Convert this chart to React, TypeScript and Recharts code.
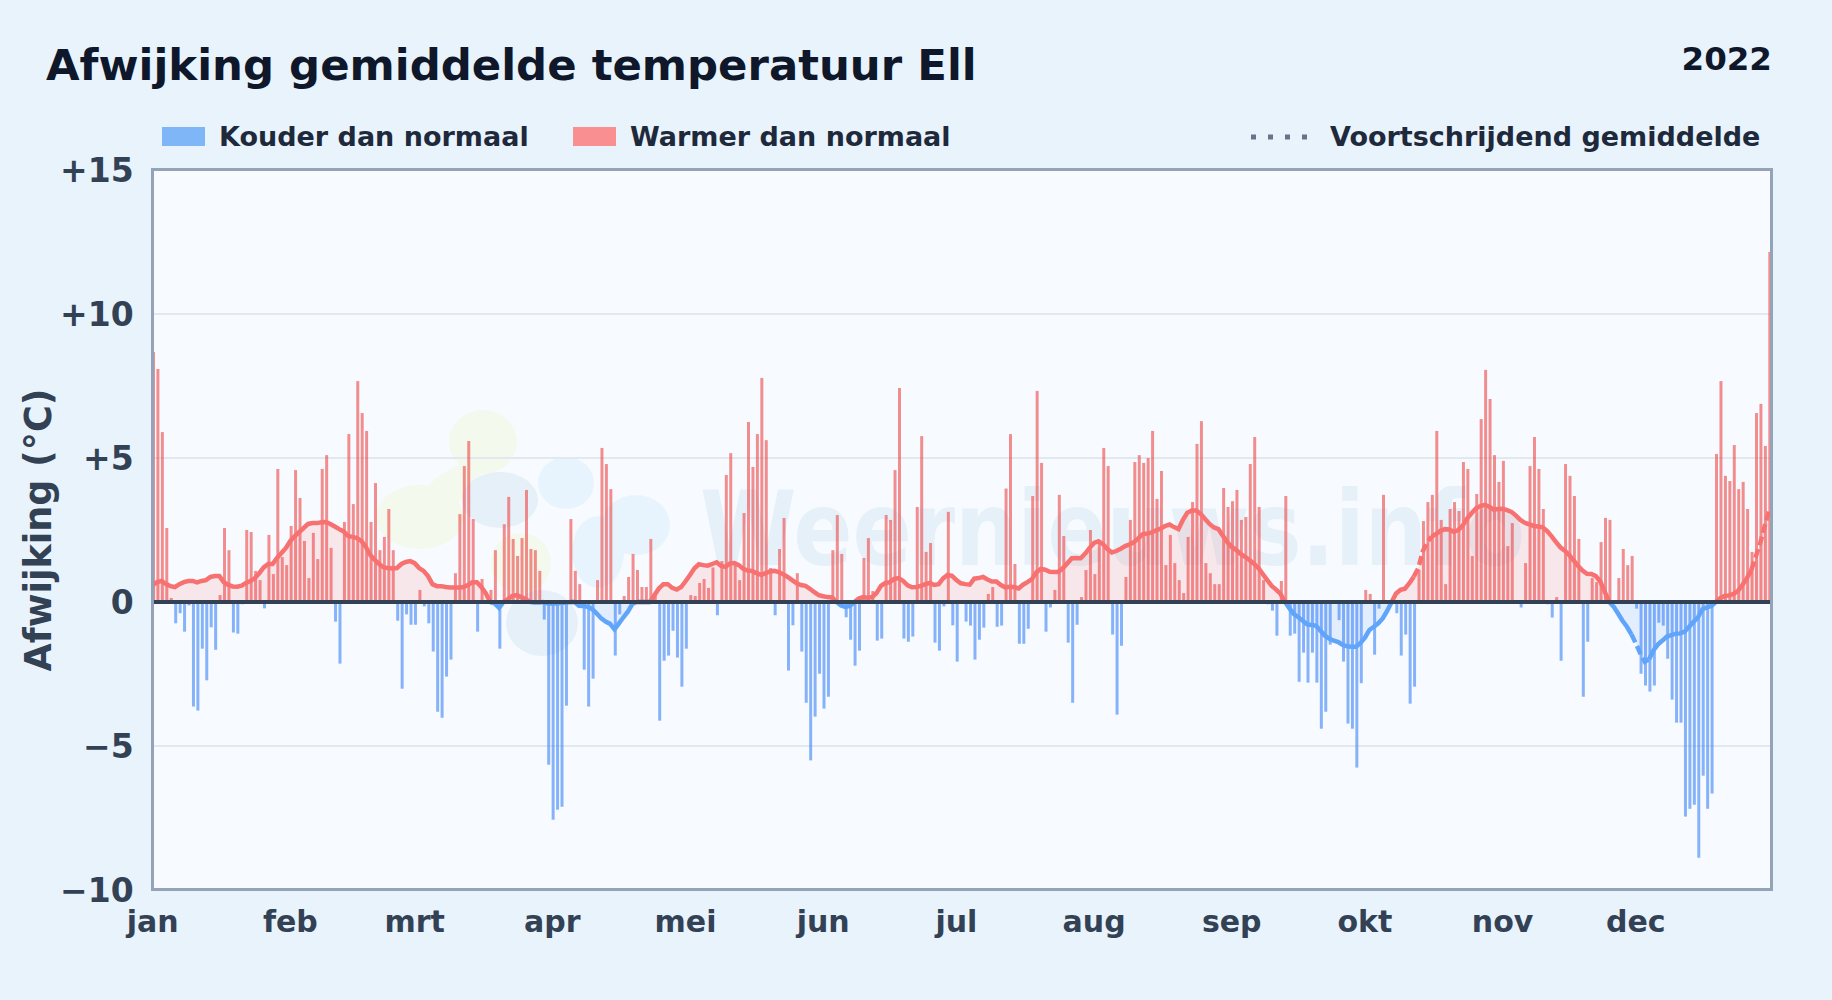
import {
  Area,
  Bar,
  CartesianGrid,
  ComposedChart,
  Line,
  Rectangle,
  ReferenceLine,
  XAxis,
  YAxis,
} from 'recharts';

const FONT = '"DejaVu Sans", sans-serif';

const monthLabels = ['jan', 'feb', 'mrt', 'apr', 'mei', 'jun', 'jul', 'aug', 'sep', 'okt', 'nov', 'dec'];
const monthStarts = [0, 31, 59, 90, 120, 151, 181, 212, 243, 273, 304, 334];
const yTicks = [-10, -5, 0, 5, 10, 15];

// daily deviation in degrees, 1 jan .. 31 dec
const deviation = [
  8.68, 8.09, 5.9, 2.57, 0.14, -0.74, -0.39, -1.03, -0.12, -3.63, -3.77, -1.62, -2.72, -0.88, -1.66, 0.24, 2.57, 1.8,
  -1.06, -1.1, -0.08, 2.5, 2.43, 1.08, 0.76, -0.22, 2.33, 0.97, 4.62, 1.56, 1.28,
  2.64, 4.58, 3.61, 2.12, 0.83, 2.4, 1.49, 4.62, 5.1, 1.88, -0.68, -2.14, 2.78, 5.83, 3.4, 7.67, 6.56, 5.94, 2.78, 4.13,
  1.8, 2.26, 3.23, 1.8, -0.65, -3.01, -0.43, -0.79,
  -0.79, 0.42, -0.15, -0.74, -1.72, -3.81, -4.02, -2.59, -2.0, 1.0, 3.05, 4.72, 5.59, 2.88, -1.03, 0.8, 0, 0.42, 1.8,
  -1.62, 2.7, 3.65, 2.19, 1.6, 2.22, 3.89, 1.84, 1.8, 1.08, -0.61, -5.65,
  -7.56, -7.21, -7.11, -3.6, 2.88, 1.08, 0.62, -2.35, -3.63, -2.66, 0.76, 5.35, 4.79, 3.92, -1.86, -0.43, 0.21, 0.87,
  1.67, 1.11, 0.52, 0.52, 2.19, 0.31, -4.12, -2.04, -1.86, -1.0, -1.93, -2.94,
  -1.62, 0.24, 0.21, 0.66, 0.8, 0.49, 1.2, -0.46, 1.42, 4.41, 5.17, 1.28, 0.76, 3.09, 6.25, 4.69, 5.83, 7.78, 5.62,
  1.18, -0.46, 1.84, 2.92, -2.38, -0.81, 1.0, -1.72, -3.5, -5.5, -3.98, -2.49,
  -3.7, -3.29, 1.8, 3.02, 1.67, -0.53, -1.31, -2.21, -1.69, 1.53, 2.22, 0.38, -1.34, -1.27, 3.02, 2.85, 4.58, 7.43,
  -1.27, -1.38, -1.2, 3.3, 5.76, 1.74, 2.05, -1.41, -1.69, -0.15, 3.13, -0.81,
  -2.07, -0.07, -0.68, -0.82, -2.0, -1.31, -0.89, 0.28, 0.52, -0.86, -0.82, 3.94, 5.83, 1.32, -1.45, -1.45, -0.93, 3.68,
  7.33, 4.83, -1.03, -0.19, 0.42, 3.72, 2.29, -1.41, -3.5, -0.79, 0.17, 1.11, 2.5,
  0.97, 2.15, 5.35, 4.72, -1.13, -3.91, -1.52, 0.87, 2.85, 4.86, 5.1, 4.83, 5.0, 5.94, 3.58, 4.55, 1.28, 2.33, 1.35,
  0.76, 0.31, 2.26, 3.47, 5.49, 6.28, 1.35, 1.0, 0.62, 0.62, 3.96, 3.3,
  3.5, 3.89, 2.85, 2.95, 4.79, 5.73, 3.3, 0.76, -0.08, -0.3, -1.17, 0.73, 3.68, -1.17, -1.1, -2.77, -1.76, -2.8, -1.76,
  -2.8, -4.4, -3.81, -1.48, 0, -0.63, -2.07, -4.22, -4.4, -5.75, -2.82,
  0.42, 0.28, -1.83, -0.23, 3.72, 0, 0, -0.39, -1.86, -1.13, -3.53, -2.94, 1.11, 2.81, 3.47, 3.72, 5.94, 2.85, 0.62,
  3.23, 3.47, 3.16, 4.86, 4.62, 1.6, 3.75, 6.35, 8.06, 7.05, 5.1, 4.17,
  4.9, 1.94, 2.74, 0, -0.19, 1.35, 4.72, 5.73, 4.62, 3.23, -0.08, -0.54, 0.17, -2.04, 4.79, 4.38, 3.68, 2.19, -3.29,
  -1.38, 0.83, 0.69, 2.08, 2.92, 2.85, 0, 0.83, 1.84, 1.28, 1.6,
  -0.23, -2.49, -2.9, -3.11, -2.9, -0.72, -0.82, -1.97, -3.39, -4.19, -4.19, -7.45, -7.18, -7.04, -8.88, -6.03, -7.18,
  -6.65, 5.14, 7.67, 4.38, 4.2, 5.45, 3.92, 4.17, 3.23, 1.74, 6.56, 6.88, 5.42, 12.15,
];

const rollingAvg = [
  0.59, 0.69, 0.73, 0.62, 0.55, 0.52, 0.62, 0.69, 0.73, 0.73, 0.68, 0.73, 0.76, 0.87, 0.9, 0.9, 0.69, 0.59, 0.54, 0.53,
  0.57, 0.66, 0.73, 0.83, 1.0, 1.2, 1.32, 1.32, 1.53, 1.7, 1.88,
  2.12, 2.29, 2.43, 2.57, 2.71, 2.74, 2.74, 2.77, 2.78, 2.71, 2.62, 2.53, 2.45, 2.29, 2.26, 2.22, 2.12, 1.91, 1.63,
  1.46, 1.32, 1.2, 1.18, 1.16, 1.18, 1.32, 1.39, 1.42,
  1.35, 1.18, 1.08, 0.9, 0.62, 0.55, 0.55, 0.52, 0.5, 0.5, 0.5, 0.52, 0.59, 0.69, 0.69, 0.52, 0.31, 0, -0.05, -0.2, 0,
  0.1, 0.21, 0.24, 0.17, 0.1, 0, -0.02, -0.02, 0, -0.05,
  -0.05, -0.05, -0.03, -0.03, 0, 0, -0.13, -0.14, -0.17, -0.25, -0.4, -0.57, -0.68, -0.76, -0.95, -0.74, -0.53, -0.34,
  -0.07, 0, 0, 0, 0, 0.24, 0.47, 0.62, 0.62, 0.49, 0.43, 0.52,
  0.72, 0.94, 1.17, 1.31, 1.28, 1.26, 1.32, 1.38, 1.25, 1.22, 1.34, 1.35, 1.28, 1.15, 1.09, 1.08, 1.0, 0.94, 1.0, 1.06,
  1.08, 1.04, 0.96, 0.87, 0.76, 0.65, 0.59, 0.56, 0.46, 0.34, 0.24,
  0.2, 0.17, 0.16, 0, -0.12, -0.17, -0.14, 0, 0.12, 0.17, 0.15, 0.17, 0.31, 0.56, 0.66, 0.69, 0.8, 0.83, 0.73, 0.58,
  0.51, 0.52, 0.56, 0.62, 0.66, 0.59, 0.62, 0.82, 0.94, 0.91,
  0.76, 0.65, 0.62, 0.6, 0.81, 0.83, 0.87, 0.78, 0.71, 0.71, 0.59, 0.51, 0.53, 0.52, 0.47, 0.6, 0.69, 0.79, 1.03, 1.15,
  1.12, 1.05, 1.04, 1.05, 1.18, 1.35, 1.52, 1.53, 1.52, 1.68, 1.88,
  2.05, 2.11, 2.01, 1.84, 1.72, 1.77, 1.85, 1.94, 2.0, 2.08, 2.22, 2.36, 2.38, 2.42, 2.49, 2.55, 2.64, 2.69, 2.6, 2.53,
  2.85, 3.1, 3.18, 3.18, 3.06, 2.88, 2.71, 2.59, 2.53, 2.3,
  2.08, 1.91, 1.81, 1.67, 1.57, 1.46, 1.33, 1.18, 0.97, 0.76, 0.56, 0.43, 0.28, 0, -0.22, -0.42, -0.53, -0.65, -0.78,
  -0.8, -0.83, -1.0, -1.17, -1.28, -1.34, -1.39, -1.49, -1.54, -1.55, -1.55,
  -1.42, -1.24, -0.97, -0.86, -0.74, -0.57, -0.31, 0, 0.3, 0.42, 0.46, 0.65, 0.88, 1.17, 1.75, 2.07, 2.27, 2.36, 2.47,
  2.53, 2.52, 2.44, 2.5, 2.65, 2.9, 3.08, 3.25, 3.33, 3.37, 3.31, 3.21,
  3.23, 3.24, 3.19, 3.13, 3.0, 2.85, 2.75, 2.7, 2.64, 2.62, 2.59, 2.47, 2.29, 2.09, 1.9, 1.78, 1.63, 1.44, 1.25, 1.09,
  0.98, 0.97, 0.9, 0.71, 0.36, 0, -0.16, -0.4, -0.65, -0.86, -1.12,
  -1.44, -1.78, -2.07, -1.99, -1.67, -1.47, -1.34, -1.2, -1.15, -1.1, -1.09, -1.03, -0.86, -0.69, -0.53, -0.25, -0.19,
  -0.14, 0, 0.13, 0.21, 0.23, 0.28, 0.39, 0.59, 0.82, 1.11, 1.57, 2.04, 2.62, 3.17,
];

// stretches where the average is drawn broken in the reference
const brokenRanges = [
  [284, 288],
  [333, 337],
  [360, 364],
];

const inBroken = (day) => brokenRanges.some(([from, to]) => day >= from && day <= to);
const inBrokenInner = (day) => brokenRanges.some(([from, to]) => day > from && day < to);
const onlyIf = (test, value) => (test ? value : null);

const data = deviation.map((value, day) => {
  const avg = rollingAvg[day];
  return {
    day,
    warm: value > 0 ? value : null,
    cold: value < 0 ? value : null,
    fillWarm: onlyIf(avg >= 0, avg),
    fillCold: onlyIf(avg <= 0, avg),
    lineWarm: onlyIf(avg >= 0 && !inBrokenInner(day), avg),
    lineCold: onlyIf(avg <= 0 && !inBrokenInner(day), avg),
    dashWarm: onlyIf(avg >= 0 && inBroken(day), avg),
    dashCold: onlyIf(avg <= 0 && inBroken(day), avg),
  };
});

// bars sit a little to the right of the day's position
const DayBar = (props) => <Rectangle {...props} x={props.x + 0.5} />;

const formatY = (value) => {
  if (value > 0) return `+${value}`;
  if (value < 0) return `\u2212${Math.abs(value)}`;
  return '0';
};

const Swatch = ({ left, color }) => (
  <div style={{ position: 'absolute', left, top: 127, width: 43, height: 19, background: color }} />
);

const LegendText = ({ left, children }) => (
  <div
    style={{
      position: 'absolute',
      left,
      top: 121,
      fontSize: 27,
      lineHeight: '32px',
      fontWeight: 700,
      color: '#1e293b',
      whiteSpace: 'nowrap',
    }}
  >
    {children}
  </div>
);

const Watermark = () => (
  <svg width={1832} height={1000} style={{ position: 'absolute', left: 0, top: 0 }}>
    <g fill='#f3f9ec'>
      <ellipse cx={483} cy={442} rx={34} ry={32} />
      <ellipse cx={420} cy={517} rx={44} ry={32} />
      <ellipse cx={450} cy={488} rx={36} ry={16} transform='rotate(-35 450 488)' />
      <ellipse cx={521} cy={563} rx={30} ry={30} />
    </g>
    <g fill='#e6f0f9'>
      <ellipse cx={500} cy={500} rx={38} ry={28} />
      <ellipse cx={542} cy={623} rx={36} ry={33} />
    </g>
    <g fill='#e8f4fd'>
      <ellipse cx={566} cy={483} rx={28} ry={26} />
      <ellipse cx={636} cy={525} rx={34} ry={30} />
      <ellipse cx={598} cy={552} rx={26} ry={36} />
    </g>
    <text
      x={700}
      y={565}
      fontFamily={FONT}
      fontSize={104}
      fontWeight={700}
      fill='#e6f0f9'
      textLength={825}
      lengthAdjust='spacingAndGlyphs'
    >
      Weernieuws.info
    </text>
  </svg>
);

const App = () => (
  <div
    style={{
      position: 'absolute',
      left: 0,
      top: 0,
      width: 1832,
      height: 1000,
      overflow: 'hidden',
      background: '#e8f3fc',
      fontFamily: FONT,
    }}
  >
    <div style={{ position: 'absolute', left: 152, top: 170, width: 1619, height: 720, background: '#f7fbff' }} />
    <Watermark />

    <div
      style={{
        position: 'absolute',
        left: 46,
        top: 38,
        fontSize: 43.4,
        lineHeight: '54px',
        fontWeight: 700,
        color: '#0f172a',
        whiteSpace: 'nowrap',
      }}
    >
      Afwijking gemiddelde temperatuur Ell
    </div>
    <div
      style={{
        position: 'absolute',
        right: 60,
        top: 40,
        fontSize: 32.5,
        lineHeight: '38px',
        fontWeight: 700,
        color: '#0f172a',
      }}
    >
      2022
    </div>

    <Swatch left={162} color='#7fb6f8' />
    <LegendText left={219}>Kouder dan normaal</LegendText>
    <Swatch left={573} color='#f98f90' />
    <LegendText left={630}>Warmer dan normaal</LegendText>
    <svg width={60} height={10} style={{ position: 'absolute', left: 1251, top: 132 }}>
      <line x1={0} y1={5} x2={58} y2={5} stroke='#64748b' strokeWidth={5} strokeDasharray='5 12' />
    </svg>
    <LegendText left={1330}>Voortschrijdend gemiddelde</LegendText>

    <ComposedChart
      width={1832}
      height={1000}
      data={data}
      margin={{ top: 170, right: 60.3, bottom: 60, left: 52.7 }}
      style={{ position: 'absolute', left: 0, top: 0 }}
    >
      <CartesianGrid vertical={false} stroke='#e2e8f0' strokeWidth={2} />
      <XAxis
        dataKey='day'
        type='number'
        domain={[0, 364.6]}
        ticks={monthStarts}
        tickFormatter={(day) => monthLabels[monthStarts.indexOf(day)]}
        axisLine={false}
        tickLine={false}
        height={50}
        tickMargin={15}
        interval={0}
        tick={{ fill: '#334155', fontSize: 30, fontWeight: 700, fontFamily: FONT }}
      />
      <YAxis
        domain={[-10, 15]}
        ticks={yTicks}
        tickFormatter={formatY}
        width={100}
        axisLine={false}
        tickLine={false}
        tickMargin={13}
        interval={0}
        tick={{ fill: '#334155', fontSize: 33, fontWeight: 700, fontFamily: FONT }}
        label={{
          value: 'Afwijking (\u00b0C)',
          angle: -90,
          position: 'insideLeft',
          offset: -15,
          style: { fill: '#334155', fontSize: 36.5, fontWeight: 700, fontFamily: FONT, textAnchor: 'middle' },
        }}
      />
      <Area dataKey='fillWarm' stroke='none' fill='#f87171' fillOpacity={0.14} dot={false} activeDot={false} isAnimationActive={false} />
      <Area dataKey='fillCold' stroke='none' fill='#60a5fa' fillOpacity={0.14} dot={false} activeDot={false} isAnimationActive={false} />
      <Bar
        dataKey='warm'
        stackId='day'
        barSize={3}
        fill='#ef4444'
        fillOpacity={0.6}
        shape={DayBar}
        isAnimationActive={false}
      />
      <Bar
        dataKey='cold'
        stackId='day'
        barSize={3}
        fill='#3b82f6'
        fillOpacity={0.6}
        shape={DayBar}
        isAnimationActive={false}
      />
      <Line dataKey='lineWarm' stroke='#f87171' strokeWidth={4.5} dot={false} activeDot={false} isAnimationActive={false} />
      <Line dataKey='lineCold' stroke='#60a5fa' strokeWidth={4.5} dot={false} activeDot={false} isAnimationActive={false} />
      <Line
        dataKey='dashWarm'
        stroke='#f87171'
        strokeWidth={4.5}
        strokeDasharray='9 4'
        dot={false}
        activeDot={false}
        isAnimationActive={false}
      />
      <Line
        dataKey='dashCold'
        stroke='#60a5fa'
        strokeWidth={4.5}
        strokeDasharray='9 4'
        dot={false}
        activeDot={false}
        isAnimationActive={false}
      />
      <ReferenceLine y={0} stroke='#334155' strokeWidth={4} />
    </ComposedChart>

    <div
      style={{
        position: 'absolute',
        left: 151,
        top: 168,
        width: 1616,
        height: 717,
        border: '3px solid #94a3b8',
      }}
    />
  </div>
);

export default App;
